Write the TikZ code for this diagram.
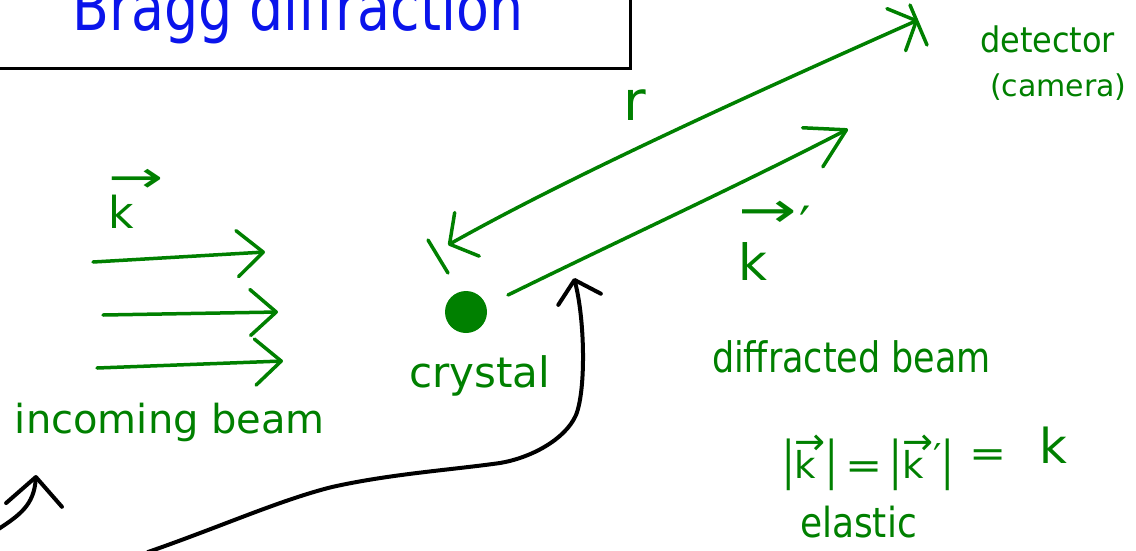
\documentclass[tikz,border=0pt]{standalone}
\usepackage{fontspec}
\usepackage{graphicx}
\setmainfont{DejaVu Sans}
\usetikzlibrary{arrows.meta}
\definecolor{gr}{RGB}{0,128,0}
\definecolor{bl}{RGB}{10,20,235}
% vector symbol: arrow (scaled horizontally) above a letter, left aligned
\newcommand{\vecsym}[3][1.5]{\leavevmode\vbox{\offinterlineskip\halign{##\hfil\cr
  \scalebox{#1}[1]{→}\cr\noalign{\kern #3}#2\cr}}}
\newcommand{\tallbar}{\scalebox{1}[1.4]{|}}
\begin{document}
\begin{tikzpicture}[x=1pt,y=-1pt,
  gline/.style={draw=gr,line width=3.5pt,line cap=round,line join=round},
  bline/.style={draw=black,line width=4pt,line cap=round,line join=round},
  lbl/.style={text=gr,inner sep=0pt,outer sep=0pt},
  fs/.style={font=\fontsize{#1}{#1}\selectfont},
  inhead/.style={-{Straight Barb[round,length=26pt,width=46pt]}},
]
\useasboundingbox (0,0) rectangle (1136,550);
\clip (0,0) rectangle (1136,550);

% title box
\draw[line width=3pt] (-10,-10) rectangle (630,68);
\node (title) [anchor=base west, inner sep=0pt, text=bl, fs=48] at (72,30) {\scalebox{1.12}[1.35]{Bragg diffraction}};

% incoming beam
\coordinate (a1s) at (93,262);  \coordinate (a1e) at (265,252);
\coordinate (a2s) at (103,315); \coordinate (a2e) at (278,312);
\coordinate (a3s) at (97,368);  \coordinate (a3e) at (283,361);
\draw[gline,inhead] (a1s) -- (a1e);
\draw[gline,inhead] (a2s) -- (a2e);
\draw[gline,inhead] (a3s) -- (a3e);
\node (kin) [lbl, fs=44, anchor=base west] at (108,228) {\vecsym{k}{0.05em}};
\node (inlbl) [lbl, fs=40, anchor=base west] at (15,433) {incoming beam};

% crystal
\node (crys) [circle, fill=gr, minimum size=42pt, inner sep=0pt] at (466,312) {};
\node (cryslbl) [lbl, fs=42, anchor=base west] at (409,387) {crystal};

% distance r
\coordinate (rA) at (448,245); \coordinate (rB) at (918,20);
\coordinate (rAc) at (560,182); \coordinate (rBc) at (720,108);
\draw[gline, {Straight Barb[round,length=20pt,width=50pt]}-{Straight Barb[round,length=22pt,width=46pt]}]
  (rA) .. controls (rAc) and (rBc) .. (rB);
\coordinate (rAb1) at (428,240); \coordinate (rAb2) at (448,273);
\draw[gline] (rAb1) -- (rAb2);
\coordinate (rBb1) at (910,5); \coordinate (rBb2) at (927,45);
\draw[gline] (rBb1) -- (rBb2);
\node (rlbl) [lbl, fs=55, anchor=base] at (635,120) {r};

% diffracted beam
\coordinate (dS) at (508,295); \coordinate (dE) at (848,129);
\coordinate (dSc) at (620,240); \coordinate (dEc) at (740,185);
\draw[gline, -{Straight Barb[round,length=38pt,width=44pt]}] (dS) .. controls (dSc) and (dEc) .. (dE);
\node (kout) [lbl, fs=50, anchor=base west] at (738,280) {\vecsym[1.4]{k}{0.3em}\hspace{0.05em}\raisebox{0.75em}{′}};
\node (difflbl) [lbl, fs=35, anchor=base west] at (712,372) {\scalebox{1}[1.2]{diffracted beam}};

% detector
\node (det) [lbl, fs=32, anchor=base west] at (980,52) {\scalebox{1}[1.1]{detector}};
\node (cam) [lbl, fs=30, anchor=base west] at (990,96) {(camera)};

% elastic relation
\node (eq) [lbl, fs=37, anchor=base west] at (782,478)
  {\tallbar\vecsym[1]{k}{-0.12em}\tallbar\hspace{0.2em}\scalebox{1.2}[1]{=}\hspace{0.2em}\tallbar\vecsym[1]{k}{-0.12em}\raisebox{0.2em}{′}\tallbar\hspace{0.4em}\raisebox{0.3em}{\scalebox{1.2}[1]{=}}\hspace{0.9em}\raisebox{0.4em}{\scalebox{1.3}{k}}};
\node (el) [lbl, fs=36, anchor=base west] at (800,537) {\scalebox{1}[1.15]{elastic}};

% black pointer arrows
\coordinate (bS) at (148,552); \coordinate (bP1) at (332,487);
\coordinate (bP2) at (500,463); \coordinate (bP3) at (576,415);
\coordinate (bT) at (574,278);
\draw[bline, -{Straight Barb[round,length=20pt,width=44pt]}]
  (bS) .. controls (220,527) and (280,500) .. (bP1)
       .. controls (390,474) and (450,470) .. (bP2)
       .. controls (530,458) and (565,440) .. (bP3)
       .. controls (586,390) and (585,320) .. (bT);
\coordinate (sS) at (-3,530); \coordinate (sT) at (36,475);
\draw[bline, -{Straight Barb[round,length=28pt,width=56pt]}] (sS) .. controls (20,515) and (34,505) .. (sT);
\end{tikzpicture}
\end{document}
